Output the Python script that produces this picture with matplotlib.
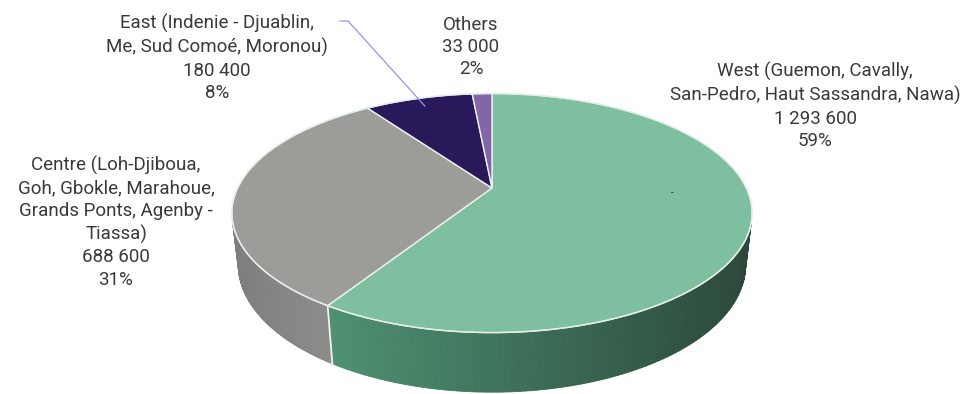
import numpy as np
import matplotlib
matplotlib.use("Agg")
import matplotlib.pyplot as plt
from matplotlib.collections import PolyCollection
from matplotlib.colors import to_rgb

# data
labels = ['West (Guemon, Cavally,\nSan-Pedro, Haut Sassandra, Nawa)',
          'Centre (Loh-Djiboua,\nGoh, Gbokle, Marahoue,\nGrands Ponts, Agenby -\nTiassa)',
          'East (Indenie - Djuablin,\nMe, Sud Comoé, Moronou)',
          'Others']
values = [1293600, 688600, 180400, 33000]
value_text = ['1 293 600', '688 600', '180 400', '33 000']
pct_text = ['59%', '31%', '8%', '2%']

top_colors = ['#7dbf9f', '#9c9c99', '#29195a', '#8466a8']
wall_left = ['#4e9072', '#7e7e7d', '#1c1240', '#5a4878']
wall_right = ['#2b483a', '#8c8c8a', '#1c1240', '#5a4878']

plt.rcParams['font.family'] = ['Roboto', 'DejaVu Sans']

# perspective view of the disc
elev = np.radians(26.7)
c, s = np.cos(elev), np.sin(elev)
D = c / 0.2096
h = 0.229
scale = 1084.0


def proj(t, z=0.0, r=1.0):
    x, y = r * np.cos(t), r * np.sin(t)
    depth = D + y * c - z * s
    return x / depth, (y * s + z * c) / depth


fig = plt.figure(figsize=(9.74, 3.94), dpi=100)
ax = fig.add_axes([0, 0, 1, 1])
ax.set_xlim(-492 / scale, 482 / scale)
ax.set_ylim(-206 / scale, 188 / scale)
ax.axis('off')

vals = np.array(values, dtype=float)
frac = vals / vals.sum()
ends = np.radians(90 - 360 * np.cumsum(frac))
starts = ends + np.radians(360 * frac)

# side walls (front-facing part only)
for i in range(len(values)):
    ts = np.linspace(starts[i], ends[i], 200)
    vis = np.sin(ts) < -1 / (D * c)
    ts = ts[vis]
    if len(ts) < 2:
        continue
    xs = proj(ts)[0]
    x0, x1 = xs.min(), xs.max()
    cl, cr = np.array(to_rgb(wall_left[i])), np.array(to_rgb(wall_right[i]))
    polys, cols = [], []
    for a, b in zip(ts[:-1], ts[1:]):
        p1, p2 = proj(a), proj(b)
        p3, p4 = proj(b, -h), proj(a, -h)
        polys.append([p1, p2, p3, p4])
        f = ((p1[0] + p2[0]) / 2 - x0) / (x1 - x0)
        cols.append(cl + (cr - cl) * f)
    ax.add_collection(PolyCollection(polys, facecolors=cols, edgecolors=cols, linewidths=0.6))

# white seam on the wall between Centre and West
b = ends[0]
p1, p2 = proj(b), proj(b, -h)
ax.plot([p1[0], p2[0]], [p1[1], p2[1]], color='#f2f2f2', lw=1.3)

# top faces
for i in range(len(values)):
    ts = np.linspace(starts[i], ends[i], 200)
    px, py = proj(ts)
    pts = np.column_stack([np.r_[0, px], np.r_[0, py]])
    ax.add_patch(plt.Polygon(pts, closed=True, facecolor=top_colors[i],
                             edgecolor='#eef2ee', lw=1.0, joinstyle='round'))

# light rim on the top face edge
ts = np.linspace(0, 2 * np.pi, 400)
rx, ry = proj(ts)
ax.plot(rx, ry, color='#e4eee6', lw=1.0)

txt = '#3a3a3a'
fs = 13.5
ls = 1.32

# data labels (x, y of label centre in pixels)
label_pos = [(815, 106), (116, 222), (217, 58), (471, 47)]
for i in range(len(values)):
    lx, ly = label_pos[i]
    fig.text(lx / 974, 1 - ly / 394, labels[i] + '\n' + value_text[i] + '\n' + pct_text[i],
             ha='center', va='center', fontsize=fs, color=txt, linespacing=ls)

# leader line for East
mid = (starts[2] + ends[2]) / 2
ex, ey = proj(mid, r=0.9)
lx0, ly0 = (340 - 492) / scale, (188 - 21) / scale
lx1 = (348 - 492) / scale
ax.plot([lx0, lx1, ex], [ly0, ly0, ey], color='#9a90e8', lw=0.9)

# stray empty label on West slice
fig.text(672 / 974, 1 - 193 / 394, '-', ha='center', va='center', fontsize=7, color='#333333')

fig.savefig('out.png', dpi=100)
